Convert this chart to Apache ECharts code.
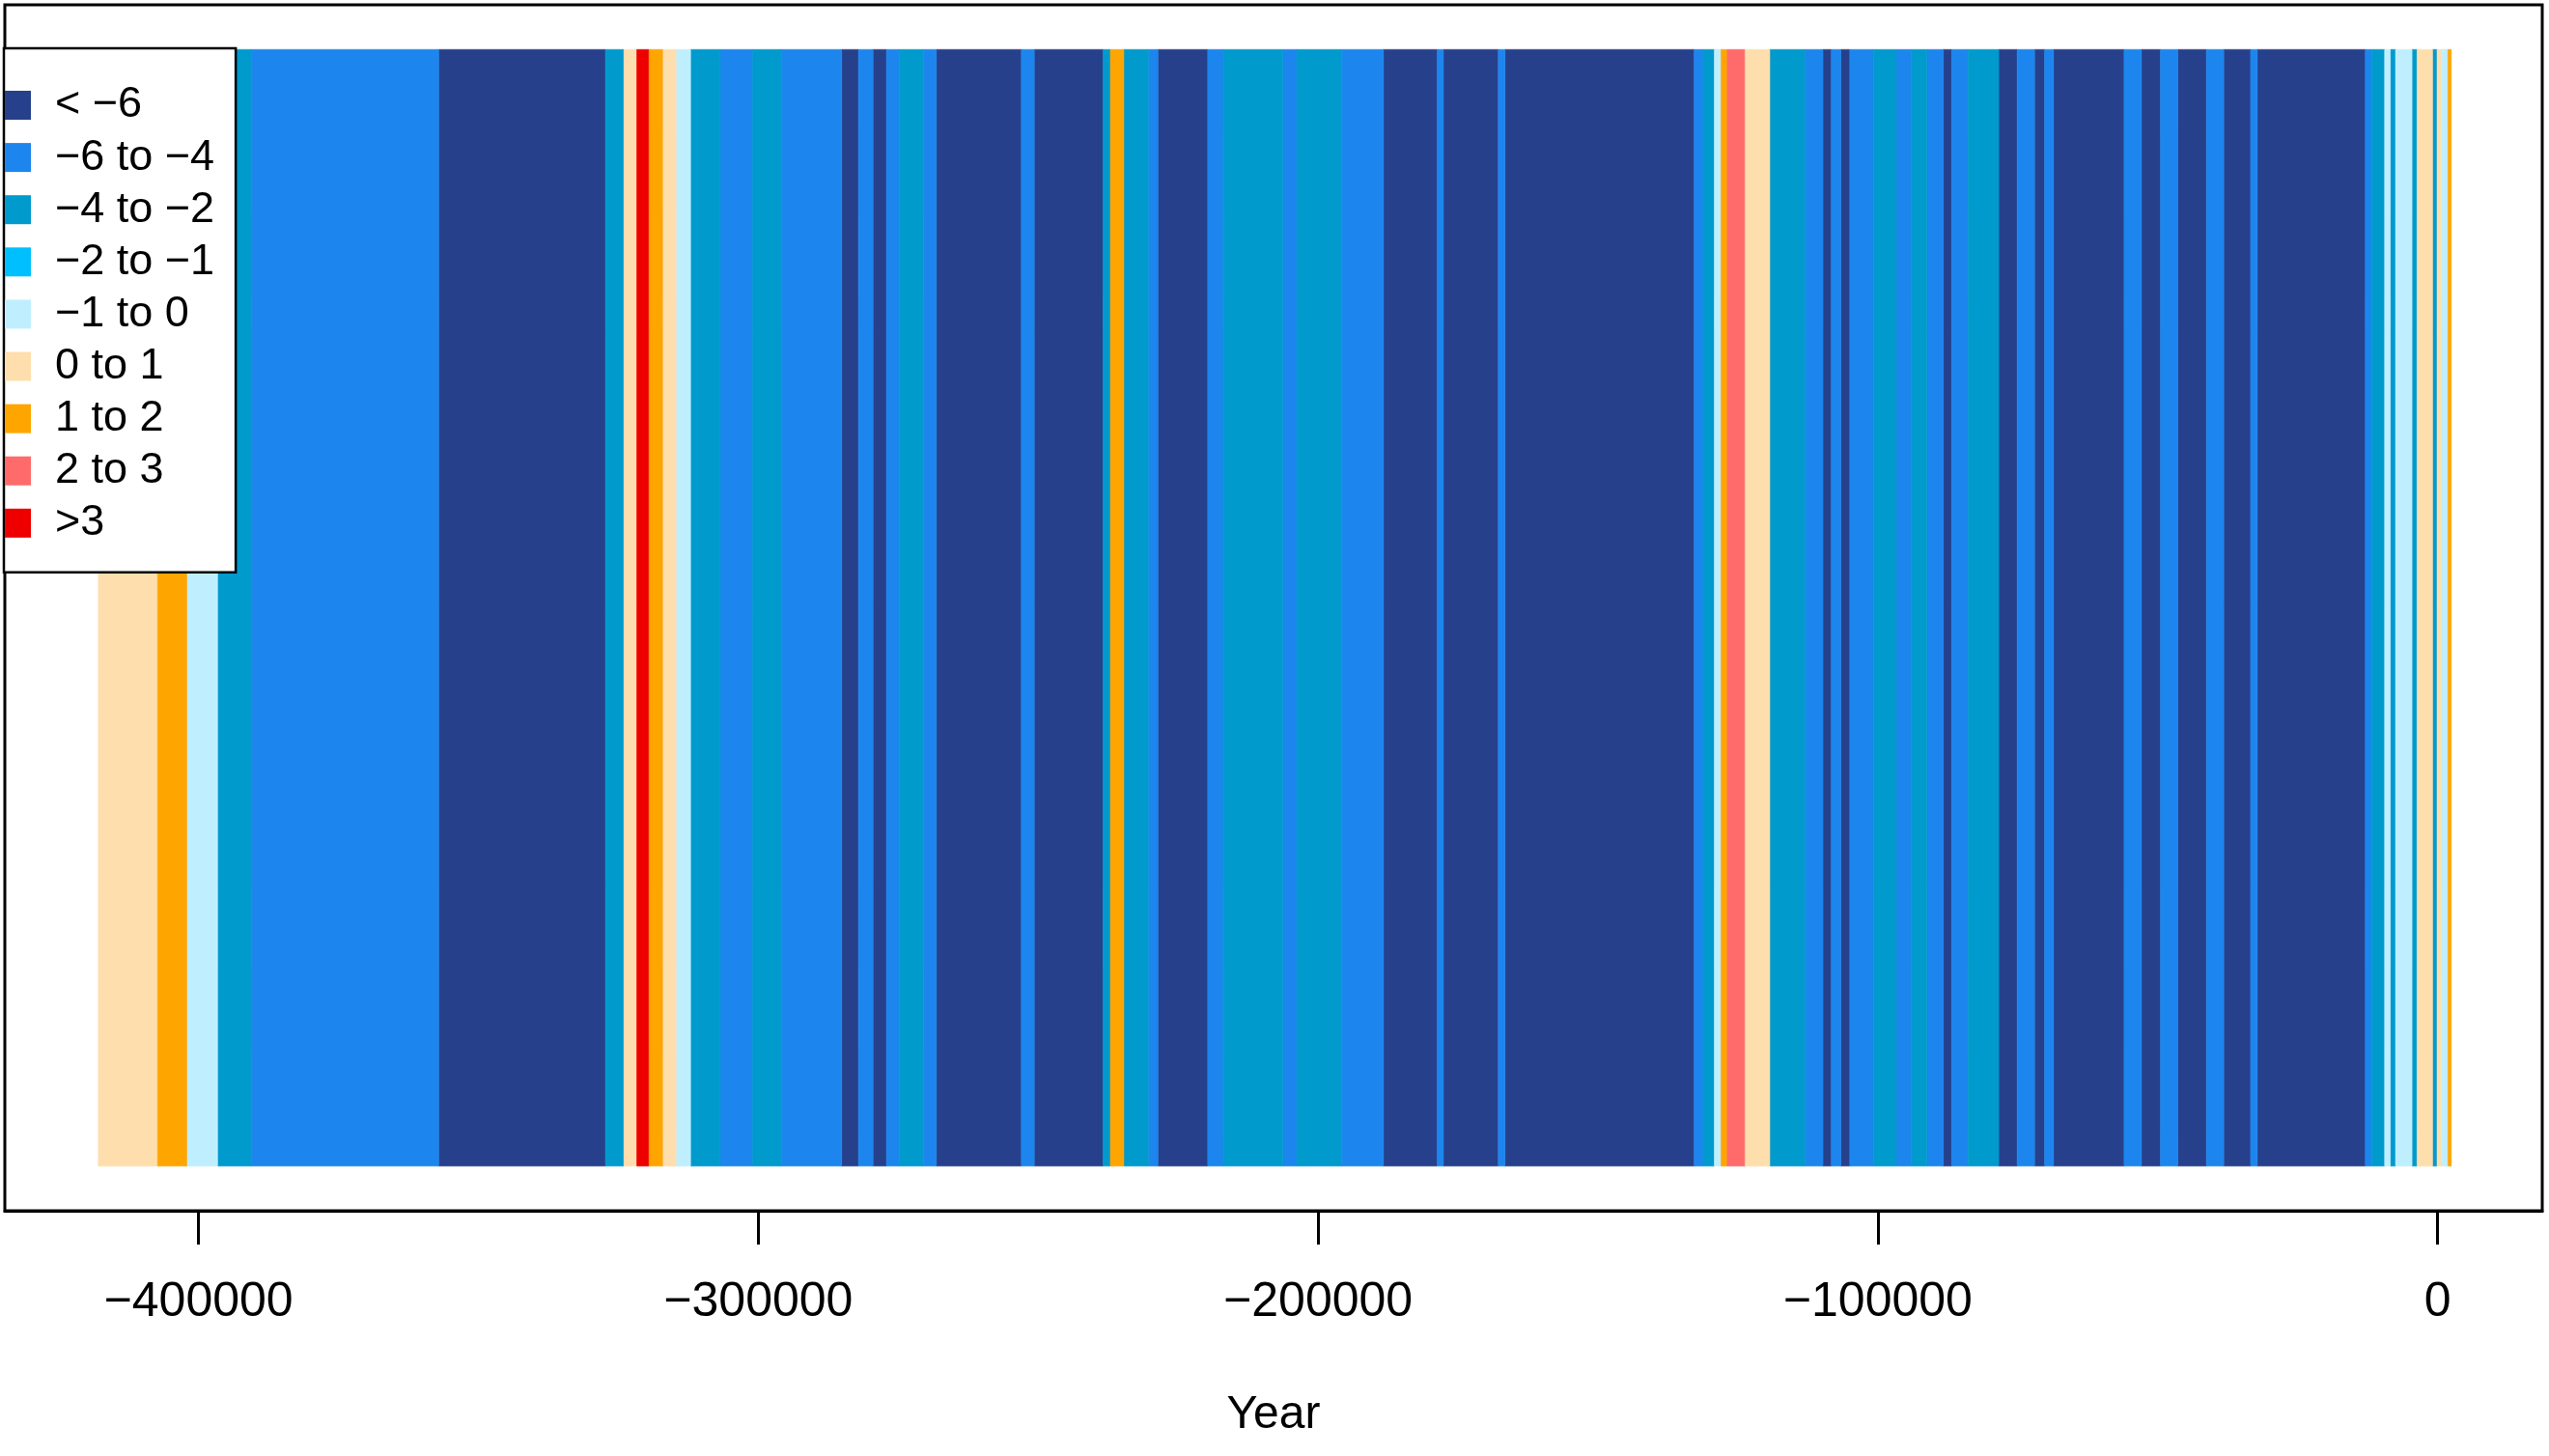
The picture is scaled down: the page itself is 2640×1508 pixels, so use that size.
<!DOCTYPE html>
<html>
<head>
<meta charset="utf-8">
<script src="https://cdn.jsdelivr.net/npm/echarts@6/dist/echarts.min.js"></script>
<style>
html,body{margin:0;padding:0;background:#fff;}
#chart{width:2640px;height:1508px;}
</style>
</head>
<body>
<div id="chart"></div>
<script>
// Category labels and colours (legend order)
const categoryLabels = ['< \u22126', '\u22126 to \u22124', '\u22124 to \u22122', '\u22122 to \u22121', '\u22121 to 0', '0 to 1', '1 to 2', '2 to 3', '>3'];
const categoryColors = ['#27408B', '#1C86EE', '#009ACD', '#00BFFF', '#BFEFFF', '#FFDEAD', '#FFA500', '#FF6A6A', '#EE0000'];

// Stripe boundaries (years) — stripe i spans boundaries[i] .. boundaries[i+1]
const boundaries = [-417900, -407300, -402100, -396600, -390600, -357100, -327300, -324000, -321700, -319600,
  -317100, -314700, -312100, -306800, -301000, -295900, -285100, -282100, -279500, -277100,
  -274800, -270500, -268200, -253000, -250700, -238400, -237100, -234700, -230300, -228600,
  -219700, -216900, -206300, -203800, -195800, -188300, -178700, -177600, -167800, -166600,
  -132800, -131200, -129200, -128000, -126900, -123800, -119300, -113000, -109800, -108300,
  -106600, -105000, -100800, -96700, -94000, -91200, -88300, -86800, -83900, -78400,
  -75100, -72000, -70200, -68600, -56000, -52900, -49500, -46400, -41300, -38200,
  -33400, -32200, -12900, -11800, -9450, -8450, -7500, -4570, -3660, -900,
  -90, 690, 1860, 2450];

// Category index of each stripe (index into categoryLabels)
const stripeClasses = [5, 6, 4, 2, 1, 0, 2, 5, 8, 6,
  5, 4, 2, 1, 2, 1, 0, 1, 0, 1,
  2, 1, 0, 1, 0, 2, 6, 2, 1, 0,
  1, 2, 1, 2, 1, 0, 1, 0, 1, 0,
  1, 2, 4, 6, 7, 5, 2, 1, 0, 1,
  0, 1, 2, 1, 2, 1, 0, 1, 2, 0,
  1, 0, 1, 0, 1, 0, 1, 0, 1, 0,
  1, 0, 1, 2, 4, 2, 4, 2, 5, 2,
  5, 4, 6];

// Axis tick labels
const xTicks = [-400000, -300000, -200000, -100000, 0];
const xRange = [-434600, 18700];

const FONT = '"Liberation Sans", Arial, Helvetica, sans-serif';

const seriesData = categoryLabels.map(() => []);
for (let i = 0; i < stripeClasses.length; i++) {
  seriesData[stripeClasses[i]].push([boundaries[i], boundaries[i + 1]]);
}

function renderStripe(params, api) {
  const p0 = api.coord([api.value(0), 1]);
  const p1 = api.coord([api.value(1), 0]);
  const c = api.visual('color');
  return {
    type: 'rect',
    shape: { x: p0[0], y: p0[1], width: p1[0] - p0[0], height: p1[1] - p0[1] },
    style: { fill: c, stroke: c, lineWidth: 0.6 }
  };
}

const chart = echarts.init(document.getElementById('chart'), null, { renderer: 'canvas' });
chart.setOption({
  animation: false,
  backgroundColor: '#ffffff',
  grid: {
    left: 5, top: 5, width: 2628, height: 1249,
    show: true, borderColor: '#000', borderWidth: 3, backgroundColor: 'transparent'
  },
  legend: {
    orient: 'vertical',
    left: 4, top: 50,
    padding: [36.5, 22, 28.4, 1],
    itemWidth: 27, itemHeight: 30, itemGap: 9.1,
    icon: 'rect',
    backgroundColor: '#fff',
    borderColor: '#000', borderWidth: 2.5,
    selectedMode: false,
    textStyle: { fontFamily: FONT, fontSize: 45, color: '#000', padding: [0, 0, 0, 20] },
    data: categoryLabels
  },
  xAxis: {
    type: 'value',
    min: xRange[0], max: xRange[1],
    splitLine: { show: false },
    axisLine: { show: true, onZero: false, lineStyle: { color: '#000', width: 3 } },
    axisTick: { show: true, length: 35, lineStyle: { color: '#000', width: 3 }, customValues: xTicks },
    axisLabel: {
      customValues: xTicks, margin: 70, fontFamily: FONT, fontSize: 50, color: '#000',
      formatter: v => (v < 0 ? '\u2212' + Math.abs(v) : String(v))
    },
    name: 'Year', nameLocation: 'middle', nameGap: 188,
    nameTextStyle: { fontFamily: FONT, fontSize: 48, color: '#000' }
  },
  yAxis: {
    type: 'value', min: -0.04, max: 1.04, show: false
  },
  series: categoryLabels.map((name, k) => ({
    name: name,
    type: 'custom',
    renderItem: renderStripe,
    itemStyle: { color: categoryColors[k] },
    encode: { x: [0, 1] },
    data: seriesData[k]
  }))
});
</script>
</body>
</html>
